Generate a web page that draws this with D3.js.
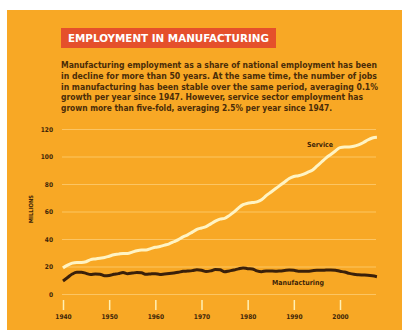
<!DOCTYPE html>
<html>
<head>
<meta charset="utf-8">
<script src="https://cdn.jsdelivr.net/npm/d3@7"></script>
<style>
  body { margin: 0; background: #fff; }
  svg { display: block; }
  .cond { font-family: "DejaVu Sans Condensed", "Liberation Sans Narrow", Roboto, sans-serif; font-weight: bold; }
</style>
</head>
<body>
<div id="chart"></div>
<script>
// data (millions of jobs)
var years = d3.range(1940, 2009);
var service = [19, 21, 22.5, 23, 23, 23.5, 25, 25.5, 26, 26.5,
  27.5, 28.5, 29, 29.5, 29.5, 30.5, 31.5, 32, 32, 33,
  34, 34.5, 35.5, 36.5, 38, 39.5, 41.5, 43, 45, 47,
  48, 49, 51, 53, 54.5, 55, 57, 59.5, 62.5, 65,
  66, 66.5, 67, 68.5, 71.5, 74, 76.5, 79, 81.5, 84,
  85.5, 86, 87, 88.5, 90, 93, 96, 99, 101.5, 104,
  106.5, 107, 107, 107.5, 108.5, 110, 112, 113.5, 114];
var manufacturing = [9.5, 12, 14.5, 15.8, 15.8, 15, 14.2, 14.6, 14.4, 13.3,
  13.5, 14.3, 14.8, 15.7, 14.8, 15.2, 15.6, 15.4, 14.3, 14.6,
  14.8, 14.2, 14.6, 14.9, 15.3, 15.8, 16.5, 16.7, 17, 17.6,
  17.3, 16.3, 16.8, 17.8, 17.6, 16.2, 16.8, 17.4, 18.3, 19,
  18.4, 18.2, 16.8, 16.2, 16.8, 16.7, 16.6, 16.8, 17.1, 17.4,
  17.2, 16.6, 16.6, 16.6, 16.9, 17.2, 17.2, 17.4, 17.5, 17.3,
  16.5, 16, 15, 14.3, 14, 13.8, 13.6, 13.2, 12.6];
var xTicks = [1940, 1950, 1960, 1970, 1980, 1990, 2000];
var yTicks = [0, 20, 40, 60, 80, 100, 120];
var title = "EMPLOYMENT IN MANUFACTURING";
var blurb = [
  "Manufacturing employment as a share of national employment has been",
  "in decline for more than 50 years. At the same time, the number of jobs",
  "in manufacturing has been stable over the same period, averaging 0.1%",
  "growth per year since 1947. However, service sector employment has",
  "grown more than five-fold, averaging 2.5% per year since 1947."
];
var blurbWidth = [316, 316, 317, 302, 271];

var W = 402, H = 330;
var orange = "#F8A825", brown = "#3E2508";

var svg = d3.select("#chart").append("svg")
    .attr("width", W)
    .attr("height", H);

svg.append("rect")
    .attr("x", 7).attr("y", 10)
    .attr("width", W - 7).attr("height", H - 10)
    .attr("fill", orange);

// title box
svg.append("rect")
    .attr("x", 61).attr("y", 28)
    .attr("width", 215).attr("height", 20)
    .attr("fill", "#E5502B");
svg.append("text")
    .attr("class", "cond")
    .attr("x", 68).attr("y", 42)
    .attr("font-size", 11)
    .attr("fill", "#fff")
    .attr("textLength", 201)
    .attr("lengthAdjust", "spacingAndGlyphs")
    .text(title);

svg.selectAll(".blurb")
    .data(blurb)
    .enter().append("text")
    .attr("class", "blurb cond")
    .attr("x", 61)
    .attr("y", function(d, i) { return 68 + i * 10.8; })
    .attr("font-size", 8.6)
    .attr("fill", "#4A2C08")
    .attr("textLength", function(d, i) { return blurbWidth[i]; })
    .attr("lengthAdjust", "spacingAndGlyphs")
    .text(function(d) { return d; });

var x = d3.scaleLinear().domain([1940, 2000]).range([63, 340]);
var y = d3.scaleLinear().domain([0, 120]).range([294, 129]);
var left = 62, right = 376;

// grid + y labels
var yAxis = svg.append("g")
    .attr("transform", "translate(" + left + ",0)")
    .call(d3.axisLeft(y).tickValues(yTicks).tickSize(-(right - left)).tickPadding(9));
yAxis.select(".domain").remove();
yAxis.selectAll("line").attr("stroke", "#FCC563").attr("stroke-width", 1.2);
yAxis.selectAll("text")
    .attr("class", "cond")
    .attr("font-size", 6.5)
    .attr("fill", brown);

svg.append("text")
    .attr("class", "cond")
    .attr("transform", "translate(33,209) rotate(-90)")
    .attr("text-anchor", "middle")
    .attr("font-size", 5.8)
    .attr("fill", brown)
    .text("MILLIONS");

// x axis
var xAxis = svg.append("g")
    .attr("transform", "translate(0,300)")
    .call(d3.axisBottom(x).tickValues(xTicks).tickFormat(d3.format("d")).tickSize(10).tickPadding(4));
xAxis.select(".domain").remove();
xAxis.selectAll("line").attr("stroke", "#FFF0B5").attr("stroke-width", 1.5);
xAxis.selectAll("text")
    .attr("class", "cond")
    .attr("font-size", 6.5)
    .attr("fill", brown);

var line = d3.line()
    .x(function(d, i) { return x(years[i]); })
    .y(function(d) { return y(d); })
    .curve(d3.curveMonotoneX);

svg.append("path")
    .datum(service)
    .attr("d", line)
    .attr("fill", "none")
    .attr("stroke", "#FFF4C4")
    .attr("stroke-width", 3)
    .attr("stroke-linejoin", "round");

svg.append("path")
    .datum(manufacturing)
    .attr("d", line)
    .attr("fill", "none")
    .attr("stroke", "#3A200A")
    .attr("stroke-width", 3)
    .attr("stroke-linejoin", "round");

svg.append("text")
    .attr("class", "cond")
    .attr("x", 320).attr("y", 147)
    .attr("text-anchor", "middle")
    .attr("font-size", 7)
    .attr("fill", brown)
    .text("Service");

svg.append("text")
    .attr("class", "cond")
    .attr("x", 298).attr("y", 285)
    .attr("text-anchor", "middle")
    .attr("font-size", 7)
    .attr("fill", brown)
    .text("Manufacturing");
</script>
</body>
</html>
